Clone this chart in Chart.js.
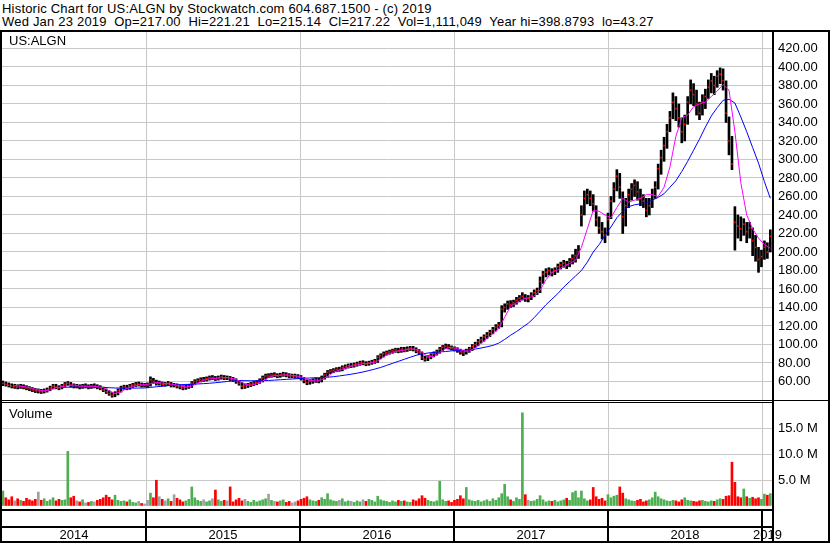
<!DOCTYPE html>
<html>
<head>
<meta charset="utf-8">
<title>Historic Chart for US:ALGN</title>
<script src="https://cdn.jsdelivr.net/npm/chart.js@4.4.1/dist/chart.umd.min.js"></script>
<style>
    body {
        margin: 0;
        background: #ffffff;
        font-family: "Liberation Sans", Arial, sans-serif;
        font-size: 13px;
        color: #000000;
    }

    #page {
        position: relative;
        width: 830px;
        height: 543px;
        overflow: hidden;
        background: #ffffff;
    }

    .head {
        position: absolute;
        left: 2px;
        line-height: 13px;
        white-space: pre;
        letter-spacing: 0.2px;
    }

    .tag {
        position: absolute;
        left: 9px;
        line-height: 13px;
    }

    .rule {
        position: absolute;
        background: #000000;
    }

    canvas {
        position: absolute;
        left: 0;
    }
</style>
</head>
<body>

<div id="page">

    <div class="head" style="top:2px">Historic Chart for US:ALGN by Stockwatch.com 604.687.1500 - (c) 2019</div>
    <div class="head" style="top:15px">Wed Jan 23 2019  Op=217.00  Hi=221.21  Lo=215.14  Cl=217.22  Vol=1,111,049  Year hi=398.8793  lo=43.27</div>

    <canvas id="priceChart" width="830" height="369" style="top:32px"></canvas>
    <canvas id="volumeChart" width="830" height="142" style="top:401px"></canvas>

    <div class="rule" style="left:0;top:30px;width:830px;height:2px"></div>
    <div class="rule" style="left:0;top:30px;width:2px;height:513px"></div>
    <div class="rule" style="left:828px;top:30px;width:2px;height:513px"></div>

    <div class="tag" style="top:34px">US:ALGN</div>
    <div class="tag" style="top:407px">Volume</div>

</div>

<script>
// ===============================
// DATA (weekly, from Jan 24 2014)
// ===============================

const xMin = 2014.065;
const xMax = 2019.071;
const weekStep = 7 / 365.25;

const yearBounds = [2015, 2016, 2017, 2018, 2019];
const yearLabels = ["2014", "2015", "2016", "2017", "2018", "2019"];

const priceMin = 40;
const priceMax = 437.8;
const volumeMax = 20;

const closes = [
    58, 57, 56, 55, 55, 54, 55, 54, 53, 52,
    51, 50, 50, 49, 50, 51, 53, 55, 54, 53,
    55, 57, 58, 56, 55, 55, 54, 55, 55, 54,
    55, 55, 54, 53, 51, 49, 47, 45, 47, 50,
    53, 54, 53, 55, 56, 57, 57, 56, 56, 56,
    62, 60, 58, 58, 57, 57, 58, 56, 56, 55,
    54, 53, 54, 55, 58, 60, 61, 62, 62, 63,
    64, 64, 63, 64, 65, 64, 64, 63, 62, 60,
    58, 55, 55, 56, 57, 58, 59, 61, 64, 66,
    66, 67, 67, 66, 67, 68, 67, 66, 66, 66,
    65, 64, 61, 59, 60, 61, 62, 61, 64, 67,
    70, 71, 72, 73, 73, 75, 76, 77, 77, 78,
    79, 80, 80, 79, 80, 81, 82, 86, 88, 90,
    91, 92, 93, 94, 93, 95, 94, 95, 96, 95,
    93, 91, 86, 84, 86, 88, 90, 92, 95, 97,
    98, 97, 96, 95, 94, 92, 91, 93, 95, 98,
    100, 103, 105, 108, 110, 113, 116, 119, 121, 138,
    140, 144, 143, 145, 148, 150, 152, 150, 150, 153,
    156, 158, 168, 176, 178, 180, 178, 180, 184, 186,
    188, 186, 190, 193, 196, 200, 240, 258, 262, 258,
    252, 235, 226, 222, 218, 235, 255, 268, 282, 270,
    238, 250, 262, 268, 272, 265, 258, 255, 245, 250,
    262, 270, 290, 302, 315, 330, 345, 362, 355, 345,
    330, 338, 362, 375, 370, 360, 350, 362, 368, 378,
    385, 380, 390, 392, 385, 350, 320, 295, 232, 228,
    225, 230, 222, 226, 212, 205, 192, 195, 205, 200,
    217
];

const highs = [
    60.5, 59.5, 58.5, 57.5, 57, 56.5, 57, 56.5, 55.5, 54.5,
    53.5, 52.5, 52, 51.5, 52, 53, 55, 57, 57, 55.5,
    57, 59, 60, 59, 57.5, 57, 56.5, 57, 57.5, 56.5,
    57, 57.5, 56.5, 55.5, 54, 52, 50, 48, 49, 52,
    55, 56, 56, 57, 58, 59, 59.5, 58.5, 58, 58.5,
    65, 63.5, 61.5, 60.5, 59.5, 59, 60, 59, 58, 57.5,
    56.5, 55.5, 56, 57, 60, 62, 63, 64, 64.5, 65,
    66, 66.5, 65.5, 66, 67, 66.5, 66, 65.5, 64.5, 63,
    61, 59, 57.5, 58, 59, 60, 61, 63, 66, 68,
    68.5, 69, 69.5, 68.5, 69, 70, 69.5, 68.5, 68, 68,
    67.5, 66.5, 64.5, 62, 62, 63, 64, 63.5, 66, 69,
    72, 73, 74, 75, 75.5, 77, 78, 79, 79.5, 80,
    81, 82, 82.5, 81.5, 82, 83, 84, 88, 90, 92,
    93, 94, 95, 96, 96, 97, 97, 97.5, 98, 98,
    96.5, 94.5, 92, 87.5, 88, 90, 92, 94, 97, 99,
    100.5, 100, 98.5, 97.5, 96.5, 95, 93.5, 95, 97, 100,
    102.5, 105.5, 108, 110.5, 113, 115.5, 118.5, 121.5, 124, 142,
    144, 147, 147.5, 148, 151, 153, 156, 154, 153, 156,
    159, 161, 173, 179, 182, 183, 182, 183, 187, 189,
    191, 190, 193, 197, 203, 207, 250, 266, 268, 266,
    262, 250, 238, 232, 226, 242, 260, 275, 289, 285,
    265, 258, 268, 274, 278, 276, 268, 262, 258, 258,
    268, 276, 295, 310, 324, 338, 352, 372, 368, 360,
    345, 348, 368, 386, 382, 375, 362, 370, 376, 386,
    393, 390, 396, 399, 398, 385, 346, 325, 249, 240,
    238, 236, 232, 232, 226, 218, 205, 202, 212, 210,
    224
];

const lows = [
    55.5, 55, 54, 53, 52.5, 52, 52.5, 52, 51, 50,
    49, 48, 47.5, 47, 47.5, 48.5, 50, 52, 52, 51,
    52, 54.5, 55.5, 54, 53, 53, 52, 52.5, 53, 52,
    52.5, 53, 52, 51, 49, 47, 45, 43, 43.5, 45.5,
    48.5, 51.5, 51, 51.5, 53.5, 54.5, 55, 54, 54, 53.5,
    55, 58, 56, 56, 55, 55, 55.5, 54, 54, 53,
    52, 51, 51.5, 52.5, 53.5, 56.5, 58.5, 59.5, 60, 60.5,
    61.5, 62, 61, 61.5, 62.5, 62, 62, 61, 60, 58,
    56, 52, 52.5, 53.5, 54.5, 55.5, 56.5, 58, 59.5, 62.5,
    64, 64.5, 65, 64, 64.5, 65.5, 65, 64, 64, 63.5,
    63, 61.5, 58.5, 56.5, 57, 58, 59, 58.5, 59.5, 62.5,
    65.5, 68.5, 69.5, 70.5, 71, 71.5, 73.5, 74.5, 75, 75.5,
    76.5, 77.5, 78, 77, 77.5, 78.5, 79.5, 80.5, 84.5, 86.5,
    88.5, 89.5, 90.5, 91.5, 91, 91.5, 92, 92.5, 93.5, 93,
    91, 89, 83.5, 82, 82.5, 84.5, 86.5, 88.5, 90.5, 93.5,
    95.5, 95, 94, 93, 91.5, 89.5, 88, 89.5, 91.5, 93.5,
    96.5, 98.5, 101.5, 103.5, 106.5, 108.5, 111.5, 114.5, 117.5, 119,
    135, 138, 140, 141, 143.5, 146, 148, 146.5, 146, 148.5,
    151.5, 154, 156, 166, 173, 175, 174, 175.5, 178, 181.5,
    183.5, 182, 184, 187, 189, 193, 228, 240, 252, 250,
    244, 228, 220, 214, 210, 218, 236, 254, 266, 258,
    220, 228, 248, 256, 260, 256, 250, 248, 238, 240,
    248, 258, 268, 284, 298, 312, 330, 344, 342, 335,
    318, 320, 338, 360, 358, 348, 343, 348, 355, 366,
    372, 370, 378, 382, 375, 340, 305, 289, 202, 215,
    212, 218, 210, 215, 196, 190, 178, 184, 192, 193,
    200
];

// volume in millions of shares
const volumes = [
    2.9, 1.6, 1.2, 1.8, 1.0, 1.4, 1.1, 0.9, 1.5, 1.2,
    1.0, 1.3, 2.7, 1.1, 1.4, 0.9, 1.2, 1.6, 1.0, 1.3,
    1.1, 1.2, 10.6, 1.6, 1.9, 1.0, 0.8, 1.2, 0.6, 0.7,
    0.9, 0.8, 1.1, 1.3, 1.6, 2.1, 1.7, 1.2, 2.1, 1.1,
    0.9, 1.0, 0.8, 1.2, 0.7, 0.6, 0.9, 0.5, 0.4, 1.1,
    2.5, 1.6, 5.0, 1.8, 1.3, 1.0, 1.4, 0.9, 2.2, 1.5,
    1.2, 0.8, 1.0, 1.3, 3.7, 1.6, 1.1, 0.9, 1.2, 0.8,
    1.0, 1.4, 3.1, 1.2, 0.9, 1.1, 1.0, 3.7, 0.8, 1.2,
    1.5, 1.0, 1.3, 0.9, 0.7, 1.1, 0.8, 1.0, 1.2, 1.4,
    2.3, 1.1, 0.9, 0.8, 1.0, 1.2, 0.7, 0.9, 0.6, 0.8,
    1.0, 1.3, 1.5, 1.8, 1.2, 1.0, 0.9, 1.1, 1.6, 1.3,
    2.4, 1.2, 1.0, 0.9, 1.1, 1.4, 0.8, 1.0, 0.9, 0.7,
    1.0, 0.8, 1.2, 0.9, 1.3, 1.1, 0.8, 1.9, 1.2, 1.0,
    0.9, 0.7, 1.0, 0.8, 1.1, 0.9, 1.0, 0.8, 0.7, 1.2,
    1.0, 1.4, 2.0, 1.5, 1.1, 0.9, 0.8, 1.0, 4.8, 1.2,
    0.9, 1.0, 0.7, 1.1, 1.3, 2.0, 1.4, 3.6, 1.2, 1.0,
    0.9, 1.1, 0.8, 1.0, 1.2, 0.9, 1.4, 1.1, 1.6, 2.4,
    4.2, 1.8, 1.2, 0.9, 1.6, 1.3, 18.1, 2.2, 1.1, 0.9,
    1.0, 1.3, 2.0, 1.2, 0.8, 1.0, 0.9, 1.1, 0.8, 1.0,
    1.2, 1.5, 1.1, 2.6, 2.9, 1.6, 2.9, 1.4, 1.0, 1.2,
    3.6, 1.8, 1.3, 1.5, 1.0, 2.2, 1.6, 1.9, 2.1, 3.7,
    2.5, 1.4, 1.2, 1.0, 0.9, 1.1, 1.3, 0.8, 1.0, 1.2,
    1.6, 2.7, 1.8, 1.4, 1.2, 1.0, 0.9, 1.1, 1.0, 0.8,
    1.2, 1.6, 1.1, 1.0, 0.9, 0.8, 1.0, 1.1, 0.9, 0.8,
    1.0, 0.9, 1.2, 1.4, 1.3, 1.9, 2.0, 8.5, 4.6, 1.8,
    1.6, 3.3, 1.8, 1.5, 1.7, 1.4, 1.6, 1.3, 2.3, 2.1,
    2.4
];

// short moving average (pink), every 2nd week from week 4
const shortAvgStart = 4;
const shortAvg = [
    55.8, 54.8, 54, 52.5, 50.8, 49.8, 50.8, 53.3, 54.3, 55.5,
    56.3, 55, 54.8, 54.8, 54.5, 53.3, 50, 47, 48.8, 52.5,
    54.5, 56.3, 56.5, 57.5, 59, 58.3, 57.5, 56.8, 55.3, 54,
    55, 58.5, 61.3, 62.8, 63.5, 64, 64.3, 63.3, 60.8, 57,
    55.8, 57.5, 60.5, 64.3, 66.5, 66.8, 67, 66.8, 65.8, 64,
    61, 60.5, 62, 65.5, 70, 72.3, 74.3, 76.3, 77.8, 79.3,
    79.8, 80.5, 84.3, 88.8, 91.5, 93, 94, 95, 94.8, 91.3,
    86.8, 87, 91.3, 95.5, 97, 95.5, 93, 92.8, 96.5, 101.5,
    106.5, 111.8, 117.3, 129.5, 141.3, 145, 148.8, 150.5, 152.3, 158.8,
    170, 178, 180.5, 184.5, 187.5, 191, 205, 225, 245, 244,
    240, 237, 248, 258, 254, 256, 258, 262, 262, 260,
    270, 292, 325, 345, 348, 357, 360, 362, 368, 374,
    381, 375, 330, 275, 240, 225, 215, 208, 204
];

// long moving average (blue), every 2nd week from week 20
const longAvgStart = 20;
const longAvg = [
    53.5, 53.8, 54, 54, 54, 53.8, 53.7, 53.6, 53.3, 53,
    52.9, 52.8, 52.8, 52.9, 53, 53.6, 54.3, 54.9, 55.5, 56,
    56.5, 56.8, 57, 57.3, 57.7, 58.1, 58.7, 59.3, 60, 60.6,
    61, 60.9, 60.8, 60.8, 60.9, 61.1, 61.5, 61.9, 62.3, 62.7,
    63.1, 63.5, 63.8, 64, 64.2, 64.6, 65.2, 66, 66.9, 67.9,
    69, 70.3, 71.8, 73.4, 75.2, 77.4, 79.6, 81.8, 84, 86.2,
    88.3, 89.8, 90.8, 91.5, 92, 92.4, 93.1, 93.6, 93.8, 94.3,
    95, 96.2, 97.5, 99, 101.5, 105.5, 110, 114, 118.5, 123,
    129, 136, 143, 149, 155, 162, 168, 174, 180, 189,
    200, 208, 218, 227, 237, 244, 249, 251, 252, 253,
    256, 259, 263, 270, 277, 287, 298, 310, 322, 335,
    347, 356, 364, 365, 361, 346, 330, 313, 296, 276,
    258
];

// ===============================
// COLOURS
// ===============================

const gridGray = "#c8c8c8";
const upGreen = "#4caf50";
const downRed = "#ff0000";
const flatGray = "#a0a0a0";

Chart.defaults.font.family = '"Liberation Sans", Arial, sans-serif';
Chart.defaults.font.size = 13;
Chart.defaults.color = "#000000";

// ===============================
// HELPERS
// ===============================

function weekX(i) {

    return xMin + (i + 0.3) * weekStep;
}

function yearGridTicks(scale) {

    scale.ticks = yearBounds.map(year => ({ value: year }));
}

function noPadding(scale) {

    scale.paddingTop = 0;
    scale.paddingBottom = 0;
    scale.paddingLeft = 0;
    scale.paddingRight = 0;
}

function yearGridAxis() {

    return {
        type: "linear",
        min: xMin,
        max: xMax,
        offset: false,
        position: "bottom",
        afterBuildTicks: yearGridTicks,
        afterFit: function (scale) {
            noPadding(scale);
            scale.height = 0;
        },
        ticks: { display: false },
        grid: {
            color: gridGray,
            lineWidth: 1,
            drawTicks: false,
            offset: false
        },
        border: { display: false }
    };
}

// ===============================
// PRICE PANEL
// ===============================

const priceBars = highs.map((h, i) => ({ x: weekX(i), y: [lows[i], h] }));

const closeMarks = closes.map((c, i) => ({ x: weekX(i), y: c }));

const shortLine = shortAvg.map((v, k) => ({ x: weekX(shortAvgStart + k * 2), y: v }));

const longLine = longAvg.map((v, k) => ({ x: weekX(longAvgStart + k * 2), y: v }));

const priceFrame = {

    id: "priceFrame",

    afterDraw: function (chart) {

        const ctx = chart.ctx;
        const area = chart.chartArea;

        ctx.save();
        ctx.fillStyle = "#000000";
        ctx.fillRect(area.right - 1, 0, 2, chart.height);
        ctx.fillRect(0, area.bottom, chart.width, 1);
        ctx.restore();
    }
};

new Chart(document.getElementById("priceChart"), {

    type: "bar",

    data: {

        datasets: [
            {
                type: "line",
                data: shortLine,
                borderColor: "#ff00ff",
                borderWidth: 1,
                pointRadius: 0,
                tension: 0,
                fill: false,
                order: 0
            },
            {
                type: "line",
                data: longLine,
                borderColor: "#0000ff",
                borderWidth: 1,
                pointRadius: 0,
                tension: 0,
                fill: false,
                order: 0
            },
            {
                type: "line",
                data: closeMarks,
                showLine: false,
                pointStyle: "rect",
                pointRadius: 1.1,
                pointBorderWidth: 0,
                pointBackgroundColor: downRed,
                order: 1
            },
            {
                type: "bar",
                data: priceBars,
                backgroundColor: "#000000",
                borderWidth: 0,
                barThickness: 2,
                order: 2
            }
        ]
    },

    options: {

        responsive: false,
        animation: false,
        devicePixelRatio: 1,

        layout: {
            autoPadding: false,
            padding: { left: 2, right: 0, top: 0, bottom: 1 }
        },

        plugins: {
            legend: { display: false },
            tooltip: { enabled: false }
        },

        scales: {

            x: yearGridAxis(),

            y: {
                type: "linear",
                position: "right",
                min: priceMin,
                max: priceMax,
                afterFit: function (scale) {
                    noPadding(scale);
                    scale.width = 57;
                },
                ticks: {
                    stepSize: 20,
                    includeBounds: false,
                    autoSkip: false,
                    padding: 5,
                    color: "#000000",
                    callback: function (value) {
                        return (value >= 60 && value <= 420) ? value.toFixed(2) : "";
                    }
                },
                grid: {
                    drawTicks: false,
                    color: function (ctx) {
                        const v = ctx.tick ? ctx.tick.value : 0;
                        return (v >= 60 && v <= 420) ? gridGray : "rgba(0,0,0,0)";
                    }
                },
                border: { display: false }
            }
        }
    },

    plugins: [priceFrame]
});

// ===============================
// VOLUME PANEL
// ===============================

const volumeBars = volumes.map((v, i) => ({ x: weekX(i), y: v }));

const volumeColors = closes.map((c, i) => {

    if (i === 0 || c > closes[i - 1]) return upGreen;

    if (c < closes[i - 1]) return downRed;

    return flatGray;
});

const yearCenters = yearLabels.map((label, k) => {

    const start = Math.max(xMin, 2014 + k);
    const end = Math.min(xMax, 2015 + k);

    return (start + end) / 2;
});

const volumeFrame = {

    id: "volumeFrame",

    afterDraw: function (chart) {

        const ctx = chart.ctx;
        const area = chart.chartArea;
        const xScale = chart.scales.x;

        ctx.save();
        ctx.fillStyle = "#000000";

        ctx.fillRect(0, area.top - 1, area.right, 1);
        ctx.fillRect(area.right - 1, 0, 2, chart.height);
        ctx.fillRect(0, area.bottom + 3, area.right, 2);
        ctx.fillRect(0, area.bottom + 20, area.right, 2);
        ctx.fillRect(0, chart.height - 2, chart.width, 2);

        yearBounds.forEach(year => {
            const px = Math.round(xScale.getPixelForValue(year));
            ctx.fillRect(px - 1, area.bottom + 3, 2, chart.height - area.bottom - 3);
        });

        ctx.restore();
    }
};

new Chart(document.getElementById("volumeChart"), {

    type: "bar",

    data: {

        datasets: [{
            data: volumeBars,
            backgroundColor: volumeColors,
            borderWidth: 0,
            barThickness: 2
        }]
    },

    options: {

        responsive: false,
        animation: false,
        devicePixelRatio: 1,

        layout: {
            autoPadding: false,
            padding: { left: 2, right: 0, top: 2, bottom: 0 }
        },

        plugins: {
            legend: { display: false },
            tooltip: { enabled: false }
        },

        scales: {

            x: yearGridAxis(),

            years: {
                type: "linear",
                position: "bottom",
                min: xMin,
                max: xMax,
                offset: false,
                afterBuildTicks: function (scale) {
                    scale.ticks = yearCenters.map(v => ({ value: v }));
                },
                afterFit: function (scale) {
                    noPadding(scale);
                    scale.height = 37;
                },
                ticks: {
                    autoSkip: false,
                    maxRotation: 0,
                    padding: 22,
                    color: "#000000",
                    callback: function (value, index) {
                        return yearLabels[index];
                    }
                },
                grid: { display: false, drawTicks: false },
                border: { display: false }
            },

            y: {
                type: "linear",
                position: "right",
                min: 0,
                max: volumeMax,
                afterFit: function (scale) {
                    noPadding(scale);
                    scale.width = 57;
                },
                ticks: {
                    stepSize: 5,
                    includeBounds: false,
                    autoSkip: false,
                    padding: 5,
                    color: "#000000",
                    callback: function (value) {
                        return (value > 0 && value < volumeMax) ? value.toFixed(1) + " M" : "";
                    }
                },
                grid: {
                    drawTicks: false,
                    color: function (ctx) {
                        const v = ctx.tick ? ctx.tick.value : 0;
                        return (v > 0 && v < volumeMax) ? gridGray : "rgba(0,0,0,0)";
                    }
                },
                border: { display: false }
            }
        }
    },

    plugins: [volumeFrame]
});
</script>

</body>
</html>
